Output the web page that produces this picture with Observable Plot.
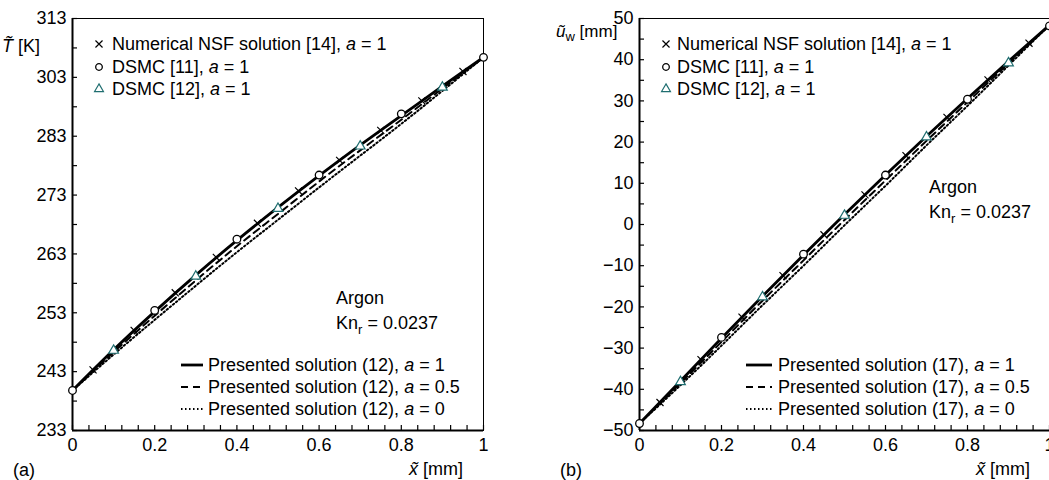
<!DOCTYPE html>
<html><head><meta charset="utf-8">
<script src="https://cdn.jsdelivr.net/npm/d3@7"></script>
<script src="https://cdn.jsdelivr.net/npm/@observablehq/plot@0.6"></script>
<style>
body{margin:0;background:#fff;}
#wrap{position:relative;width:1049px;height:480px;overflow:hidden;background:#fff;font-family:"Liberation Sans",Arial,sans-serif;}
#wrap > svg{position:absolute;top:0;}
</style></head><body><div id="wrap"></div>
<script>
// ---- shared x positions ----
const xLine = [0, 0.1, 0.2, 0.3, 0.4, 0.5, 0.6, 0.7, 0.8, 0.9, 1];
const xDsmc11 = [0, 0.2, 0.4, 0.6, 0.8, 1];
const xDsmc12 = [0.1, 0.3, 0.5, 0.7, 0.9];
const xNsf = [0.05, 0.15, 0.25, 0.35, 0.45, 0.55, 0.65, 0.75, 0.85, 0.95];
const xTicks = [0, 0.2, 0.4, 0.6, 0.8, 1];
const xTickLabels = ["0", "0.2", "0.4", "0.6", "0.8", "1"];
const xMinorTicks = [0,0.04,0.08,0.12,0.16,0.2,0.24,0.28,0.32,0.36,0.4,0.44,0.48,0.52,0.56,0.6,0.64,0.68,0.72,0.76,0.8,0.84,0.88,0.92,0.96,1];

// ---- panel (a): temperature ----
const T_a1  = [239.8, 246.7, 253.2, 259.4, 265.3, 270.9, 276.3, 281.5, 286.5, 291.5, 296.4];
const T_a05 = [239.8, 246.3, 252.5, 258.5, 264.3, 269.8, 275.3, 280.6, 285.8, 291.1, 296.4];
const T_a0  = [239.8, 245.9, 251.8, 257.6, 263.3, 268.8, 274.3, 279.7, 285.1, 290.7, 296.4];
const T_dsmc11 = [239.8, 253.4, 265.5, 276.4, 286.8, 296.4];
const T_dsmc12 = [246.6, 259.2, 270.7, 281.3, 291.3];
const T_nsf = [243.3, 250.0, 256.4, 262.4, 268.2, 273.7, 278.9, 284.0, 289.0, 294.0];
const T_yDomain = [233, 303];
const T_yTicks = [233, 243, 253, 263, 273, 283, 293, 303];
const T_yTickLabels = ["233", "243", "253", "263", "273", "283", "303", "313"];
const T_yMinor = [233,238,243,248,253,258,263,268,273,278,283,288,293,298,303];

// ---- panel (b): velocity ----
const U_a1  = [-48.3, -38.0, -27.6, -17.4, -7.4, 2.4, 12.0, 21.4, 30.6, 39.6, 48.4];
const U_a05 = [-48.3, -38.5, -28.5, -18.5, -8.7, 1.1, 10.7, 20.3, 29.7, 39.1, 48.4];
const U_a0  = [-48.3, -39.0, -29.4, -19.6, -10.0, -0.2, 9.4, 19.2, 28.8, 38.6, 48.4];
const U_dsmc11 = [-48.3, -27.4, -7.2, 12.0, 30.4, 48.2];
const U_dsmc12 = [-38.2, -17.6, 2.2, 21.2, 39.2];
const U_nsf = [-43.2, -32.8, -22.5, -12.4, -2.5, 7.2, 16.7, 26.0, 35.1, 44.0];
const U_yDomain = [-50, 50];
const U_yTicks = [-50, -40, -30, -20, -10, 0, 10, 20, 30, 40, 50];
const U_yTickLabels = ["\u221250", "\u221240", "\u221230", "\u221220", "\u221210", "0", "10", "20", "30", "40", "50"];
const U_yMinor = [-50,-45,-40,-35,-30,-25,-20,-15,-10,-5,0,5,10,15,20,25,30,35,40,45,50];

const triColor = "#1f6e70";

function pts(xs, ys) { return xs.map((x, i) => ({x, y: ys[i]})); }

function panel({yDomain, yTicks, yLabels, yMinor, a1, a05, a0, d11, d12, nsf, width, marginLeft, marginRight}) {
  const fmtY = new Map(yTicks.map((t, i) => [t, yLabels[i]]));
  const fmtX = new Map(xTicks.map((t, i) => [t, xTickLabels[i]]));
  return Plot.plot({
    width, height: 480, marginLeft, marginRight, marginTop: 18, marginBottom: 50,
    style: {fontFamily: "'Liberation Sans', Arial, sans-serif", fontSize: "18px", color: "black", background: "transparent", overflow: "visible"},
    x: {domain: [0, 1]},
    y: {domain: yDomain},
    marks: [
      Plot.frame({stroke: "black", strokeWidth: 1}),
      Plot.ruleX([0], {stroke: "black", strokeWidth: 2}),
      Plot.ruleY([yDomain[0]], {stroke: "black", strokeWidth: 2}),
      Plot.axisX(xMinorTicks, {tickSize: -5, fill: "none", stroke: "black", strokeWidth: 1.2, label: null}),
      Plot.axisY(yMinor, {tickSize: -5, fill: "none", stroke: "black", strokeWidth: 1.2, label: null}),
      Plot.axisX(xTicks, {tickSize: 0, tickPadding: 8, tickFormat: d => fmtX.get(d), label: null}),
      Plot.axisY(yTicks, {tickSize: 0, tickPadding: 6, tickFormat: d => fmtY.get(d), label: null}),
      Plot.line(pts(xLine, a0), {x: "x", y: "y", stroke: "black", strokeWidth: 2, strokeDasharray: "1.5,2.5", curve: "natural"}),
      Plot.line(pts(xLine, a05), {x: "x", y: "y", stroke: "black", strokeWidth: 2, strokeDasharray: "7,5", curve: "natural"}),
      Plot.line(pts(xLine, a1), {x: "x", y: "y", stroke: "black", strokeWidth: 2.8, curve: "natural"}),
      Plot.dot(pts(xNsf, nsf), {x: "x", y: "y", symbol: "times", r: 3.3, stroke: "black", strokeWidth: 1.2}),
      Plot.dot(pts(xDsmc12, d12), {x: "x", y: "y", symbol: "triangle", r: 3.6, fill: "white", stroke: triColor, strokeWidth: 1.2}),
      Plot.dot(pts(xDsmc11, d11), {x: "x", y: "y", symbol: "circle", r: 3.8, fill: "white", stroke: "black", strokeWidth: 1.3})
    ]
  });
}

const wrap = document.getElementById("wrap");
const left = panel({yDomain: T_yDomain, yTicks: T_yTicks, yLabels: T_yTickLabels, yMinor: T_yMinor,
  a1: T_a1, a05: T_a05, a0: T_a0, d11: T_dsmc11, d12: T_dsmc12, nsf: T_nsf,
  width: 524, marginLeft: 72, marginRight: 41});
left.style.left = "0px";
wrap.appendChild(left);
const right = panel({yDomain: U_yDomain, yTicks: U_yTicks, yLabels: U_yTickLabels, yMinor: U_yMinor,
  a1: U_a1, a05: U_a05, a0: U_a0, d11: U_dsmc11, d12: U_dsmc12, nsf: U_nsf,
  width: 509, marginLeft: 99, marginRight: 0});
right.style.left = "540px";
wrap.appendChild(right);

// ---- overlay: legends, annotations, axis titles ----
const ov = d3.select(wrap).append("svg").attr("width", 1049).attr("height", 480)
  .style("left", "0px").style("pointer-events", "none")
  .attr("font-family", "'Liberation Sans', Arial, sans-serif").attr("font-size", 18).attr("fill", "black");

function rich(x, y, parts, anchor = "start", size) {
  const t = ov.append("text").attr("x", x).attr("y", y).attr("text-anchor", anchor);
  if (size) t.attr("font-size", size);
  for (const p of parts) {
    const s = t.append("tspan").text(p.t);
    if (p.i) s.attr("font-style", "italic");
    if (p.dy) s.attr("dy", p.dy);
    if (p.fs) s.attr("font-size", p.fs);
  }
  return t;
}
const sym = (type, r) => d3.symbol(type, Math.PI * r * r)();

const topLegend = [
  {pre: "Numerical NSF solution [14], ", post: " = 1", kind: "times"},
  {pre: "DSMC [11], ", post: " = 1", kind: "circle"},
  {pre: "DSMC [12], ", post: " = 1", kind: "triangle"}
];
const refName = ["(12)", "(17)"];
const botLegend = [
  {a: "1", dash: null, w: 2.8},
  {a: "0.5", dash: "7,5", w: 2},
  {a: "0", dash: "1.5,2.5", w: 2}
];
const rowsTop = [50, 73, 95];
const rowsBot = [371, 393, 415];

function legends(markX, textX, lineX1, lineX2, botTextX, ref) {
  topLegend.forEach((d, i) => {
    const y = rowsTop[i] - 6;
    const g = ov.append("path").attr("transform", `translate(${markX},${y})`);
    if (d.kind === "times") g.attr("d", sym(d3.symbolTimes, 3.3)).attr("fill", "none").attr("stroke", "black").attr("stroke-width", 1.2);
    if (d.kind === "circle") g.attr("d", sym(d3.symbolCircle, 3.3)).attr("fill", "white").attr("stroke", "black").attr("stroke-width", 1.3);
    if (d.kind === "triangle") g.attr("d", sym(d3.symbolTriangle, 3.3)).attr("fill", "white").attr("stroke", triColor).attr("stroke-width", 1.2);
    rich(textX, rowsTop[i], [{t: d.pre}, {t: "a", i: true}, {t: d.post}]);
  });
  botLegend.forEach((d, i) => {
    const y = rowsBot[i] - 6;
    const l = ov.append("line").attr("x1", lineX1).attr("x2", lineX2).attr("y1", y).attr("y2", y)
      .attr("stroke", "black").attr("stroke-width", d.w);
    if (d.dash) l.attr("stroke-dasharray", d.dash);
    rich(botTextX, rowsBot[i], [{t: `Presented solution ${ref}, `}, {t: "a", i: true}, {t: ` = ${d.a}`}]);
  });
}
legends(99, 112, 181, 203, 208, refName[0]);
legends(666, 677, 746, 772, 778, refName[1]);

function argon(x, y) {
  rich(x, y, [{t: "Argon"}]);
  rich(x, y + 25, [{t: "Kn"}, {t: "r", fs: 13, dy: 5}, {t: " = 0.0237", dy: -5}]);
}
argon(336, 304);
argon(929, 193);

rich(13, 476, [{t: "(a)"}]);
rich(560, 476, [{t: "(b)"}]);
rich(463, 475, [{t: "x\u0303", i: true}, {t: " [mm]"}], "end");
rich(1030, 475, [{t: "x\u0303", i: true}, {t: " [mm]"}], "end");
rich(2, 52, [{t: "T\u0303", i: true}, {t: " [K]"}]);
rich(556, 37, [{t: "\u0169", i: true}, {t: "w", fs: 13, dy: 4}, {t: " [mm]", dy: -4}], "start", 17);
</script>
</body></html>
